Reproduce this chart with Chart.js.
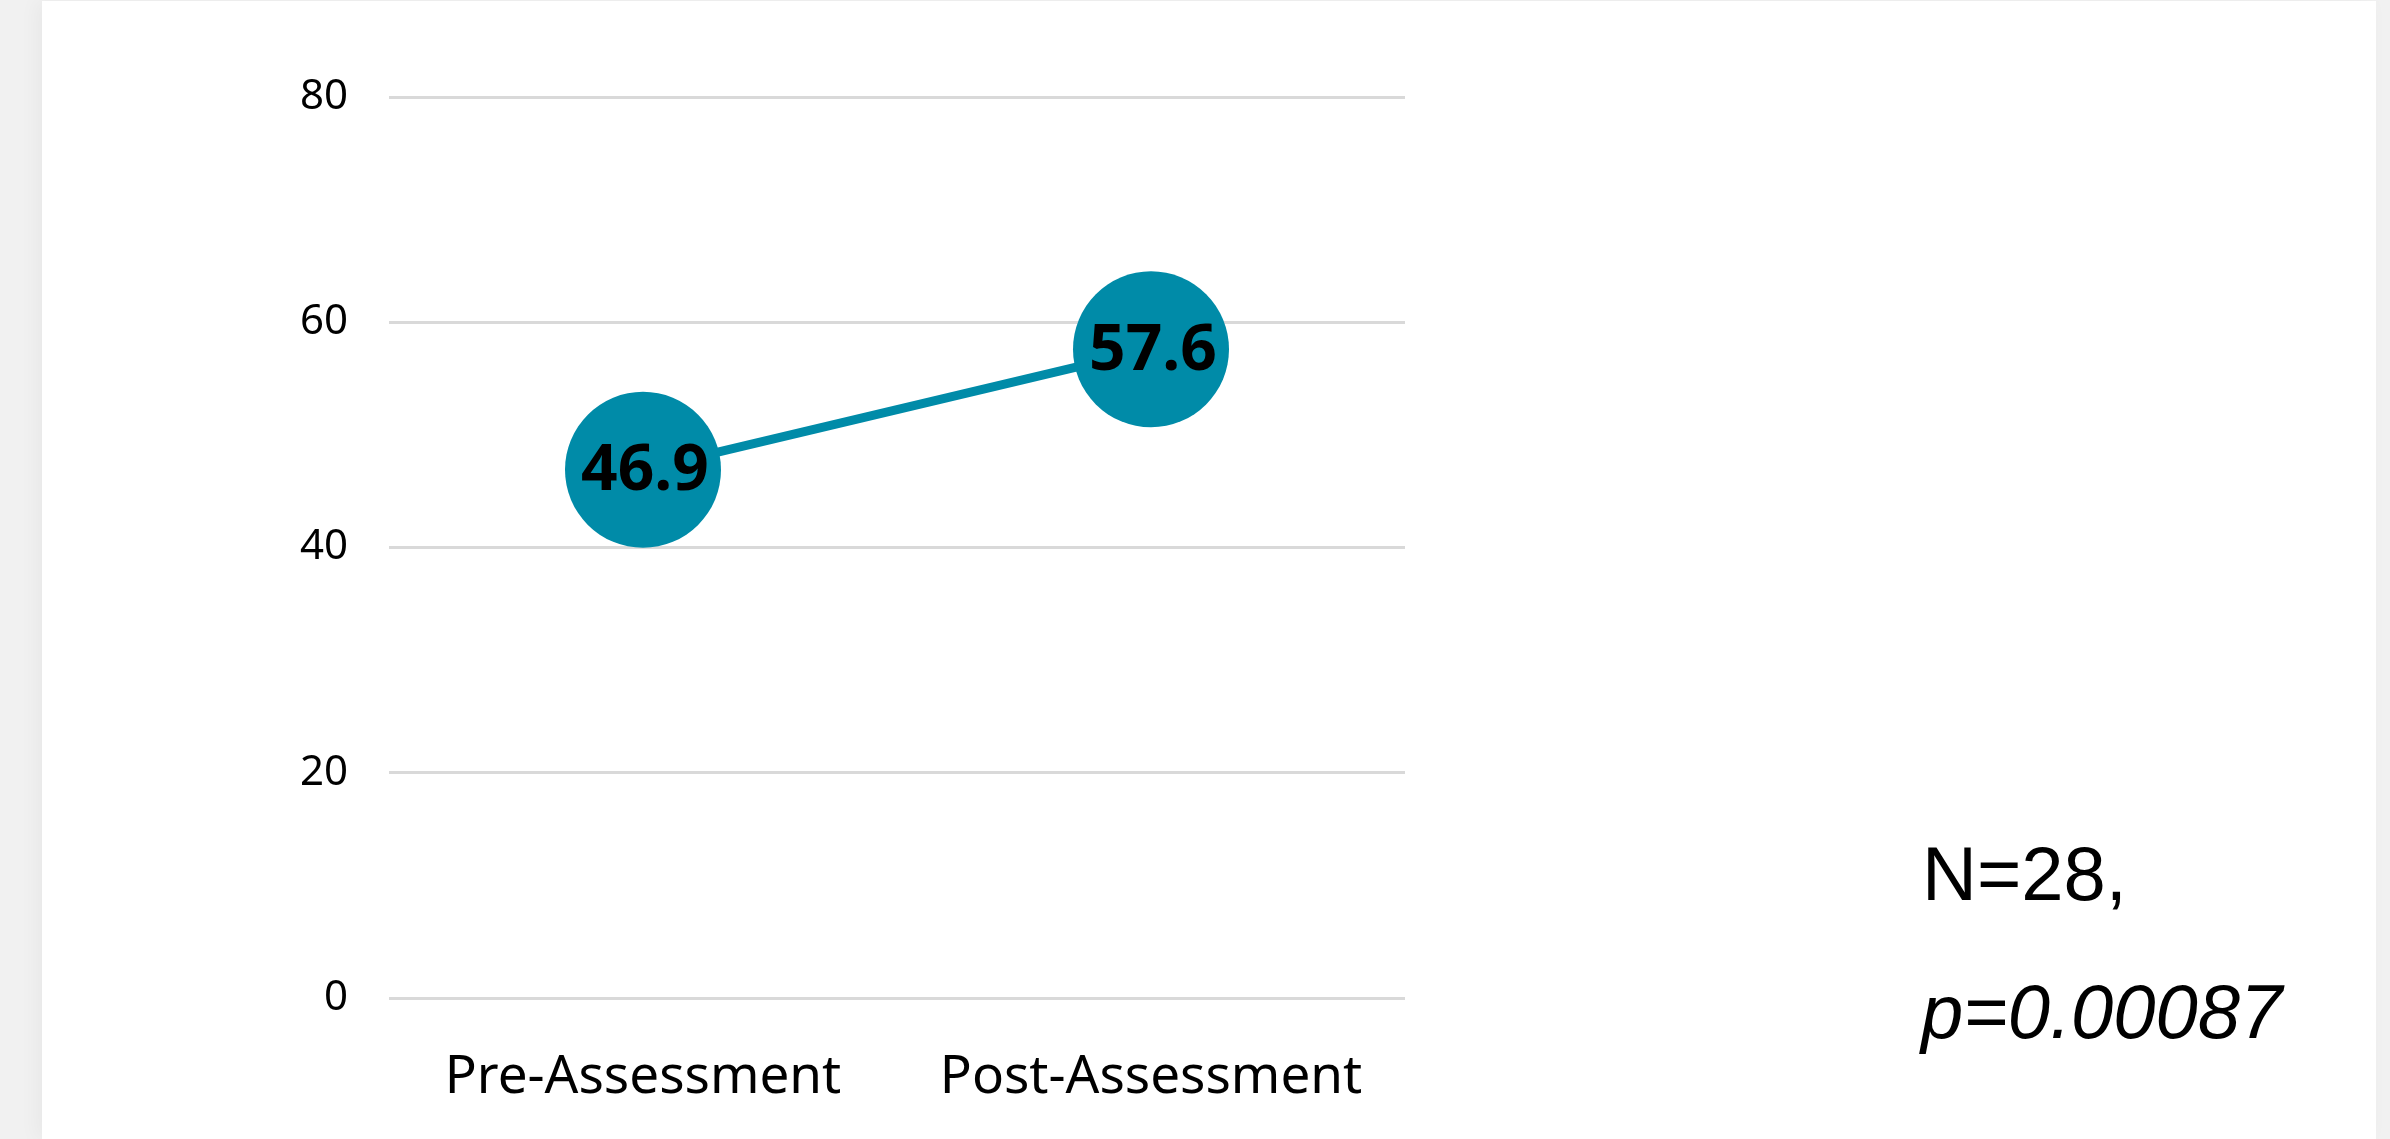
<!DOCTYPE html>
<html>
<head>
<meta charset="utf-8">
<script src="https://cdn.jsdelivr.net/npm/chart.js@4"></script>
<style>
  html, body { margin:0; padding:0; width:2390px; height:1139px; overflow:hidden; background:#f1f1f1; }
  #card { position:absolute; left:42px; top:1px; width:2334px; height:1138px; background:#ffffff; box-shadow:-6px 0 18px rgba(0,0,0,0.04); }
  #wrap { position:absolute; left:0; top:0; width:2390px; height:1139px; }
  .note { position:absolute; font-family:"Liberation Sans", Arial, sans-serif; color:#000; font-size:76px; line-height:1; white-space:nowrap; }
</style>
</head>
<body>
<div id="card"></div>
<div id="wrap"><canvas id="c" width="2390" height="1139"></canvas></div>
<div class="note" id="n1" style="left:1922px; top:836px;">N=28,</div>
<div class="note" id="n2" style="left:1921px; top:974px; font-style:italic;">p=0.00087</div>
<script>
const categories = ["Pre-Assessment", "Post-Assessment"];
const scores = [46.9, 57.6];
const yTicks = [0, 20, 40, 60, 80];

const TEAL = "#008BA8";

const valueLabels = {
  id: "valueLabels",
  afterDatasetsDraw(chart) {
    const ctx = chart.ctx;
    const meta = chart.getDatasetMeta(0);
    ctx.save();
    ctx.font = "bold 64px 'Noto Sans'";
    ctx.fillStyle = "#000";
    ctx.textAlign = "center";
    ctx.textBaseline = "middle";
    meta.data.forEach((pt, i) => {
      ctx.fillText(scores[i].toFixed(1), pt.x + 2, pt.y + 2);
    });
    ctx.restore();
  }
};

new Chart(document.getElementById("c"), {
  type: "line",
  data: {
    labels: categories,
    datasets: [{
      data: scores,
      borderColor: TEAL,
      backgroundColor: TEAL,
      borderWidth: 9,
      pointRadius: 78,
      pointHoverRadius: 78,
      pointBackgroundColor: TEAL,
      pointBorderWidth: 0,
      tension: 0
    }]
  },
  options: {
    responsive: false,
    animation: false,
    events: [],
    layout: { padding: { left: 0, right: 985, top: 97, bottom: 0 } },
    plugins: { legend: { display: false }, tooltip: { enabled: false } },
    scales: {
      x: {
        offset: true,
        grid: { display: false, drawTicks: false },
        border: { display: false },
        ticks: { color: "#000", font: { family: "Noto Sans", size: 53 }, padding: 48, maxRotation: 0 },
        afterFit(s) { s.height = 141; }
      },
      y: {
        min: 0, max: 80,
        afterBuildTicks(s) { s.ticks = yTicks.map(v => ({ value: v })); },
        grid: { color: "#d9d9d9", lineWidth: 3, drawTicks: false },
        border: { display: false },
        ticks: { color: "#000", font: { family: "Noto Sans", size: 42 }, padding: 41 },
        afterFit(s) { s.width = 389; }
      }
    }
  },
  plugins: [valueLabels]
});
</script>
</body>
</html>
